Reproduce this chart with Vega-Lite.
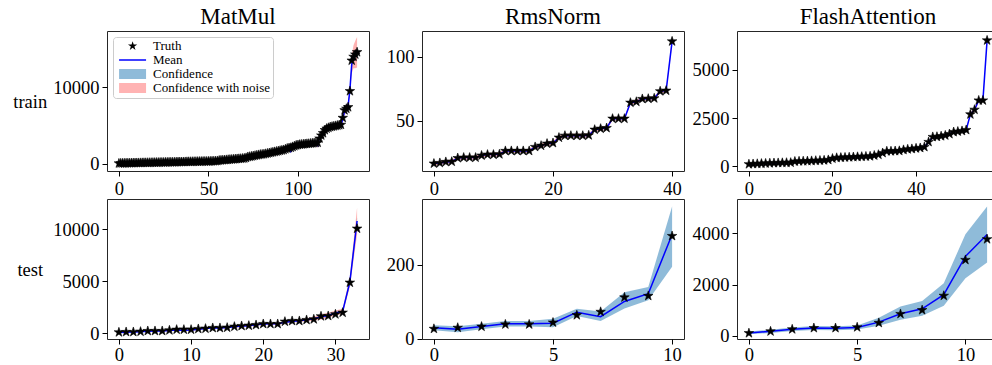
{
"$schema": "https://vega.github.io/schema/vega-lite/v6.json",
"padding": {"left": 12, "top": 5, "right": 0, "bottom": 0},
"columns": 3,
"spacing": {"row": 28, "column": 53},
"bounds": "flush",
"resolve": {"scale": {"color": "independent", "shape": "independent"}, "legend": {"color": "independent", "shape": "independent"}},
"config": {
  "view": {"stroke": "#262626", "strokeWidth": 1},
  "axis": {"domain": false, "grid": false, "tickColor": "#000000", "tickSize": 5, "tickWidth": 1, "labelFont": "Liberation Serif", "labelFontSize": 18.5, "labelColor": "#000000", "labelPadding": 3, "titleFont": "Liberation Serif", "titleFontSize": 18.5, "titleFontWeight": "normal", "titleColor": "#000000"},
  "title": {"font": "Liberation Serif", "fontSize": 23, "fontWeight": "normal", "color": "#000000", "offset": 2, "frame": "group"}
},
"datasets": {
"mm_train": [{"x":0,"t":40,"m":40},{"x":1,"t":50,"m":50},{"x":2,"t":55,"m":55},{"x":3,"t":60,"m":60},{"x":4,"t":65,"m":65},{"x":5,"t":70,"m":70},{"x":6,"t":75,"m":75},{"x":7,"t":80,"m":80},{"x":8,"t":85,"m":85},{"x":9,"t":90,"m":90},
{"x":10,"t":95,"m":95},{"x":11,"t":100,"m":100},{"x":12,"t":105,"m":105},{"x":13,"t":110,"m":110},{"x":14,"t":115,"m":115},{"x":15,"t":120,"m":120},{"x":16,"t":125,"m":125},{"x":17,"t":130,"m":130},{"x":18,"t":135,"m":135},{"x":19,"t":140,"m":140},
{"x":20,"t":145,"m":145},{"x":21,"t":150,"m":150},{"x":22,"t":155,"m":155},{"x":23,"t":160,"m":160},{"x":24,"t":165,"m":165},{"x":25,"t":170,"m":170},{"x":26,"t":175,"m":175},{"x":27,"t":180,"m":180},{"x":28,"t":185,"m":185},{"x":29,"t":190,"m":190},
{"x":30,"t":195,"m":195},{"x":31,"t":200,"m":200},{"x":32,"t":205,"m":205},{"x":33,"t":210,"m":210},{"x":34,"t":215,"m":215},{"x":35,"t":220,"m":220},{"x":36,"t":225,"m":225},{"x":37,"t":230,"m":230},{"x":38,"t":240,"m":240},{"x":39,"t":250,"m":250},
{"x":40,"t":255,"m":255},{"x":41,"t":260,"m":260},{"x":42,"t":265,"m":265},{"x":43,"t":270,"m":270},{"x":44,"t":275,"m":275},{"x":45,"t":280,"m":280},{"x":46,"t":285,"m":285},{"x":47,"t":290,"m":290},{"x":48,"t":295,"m":295},{"x":49,"t":300,"m":300},
{"x":50,"t":305,"m":305},{"x":51,"t":310,"m":310},{"x":52,"t":320,"m":320},{"x":53,"t":330,"m":330},{"x":54,"t":340,"m":340},{"x":55,"t":360,"m":360},{"x":56,"t":420,"m":420},{"x":57,"t":440,"m":440},{"x":58,"t":460,"m":460},{"x":59,"t":480,"m":480},
{"x":60,"t":500,"m":500},{"x":61,"t":520,"m":520},{"x":62,"t":540,"m":540},{"x":63,"t":560,"m":560},{"x":64,"t":580,"m":580},{"x":65,"t":600,"m":600},{"x":66,"t":620,"m":620},{"x":67,"t":640,"m":640},{"x":68,"t":660,"m":660},{"x":69,"t":680,"m":680},
{"x":70,"t":700,"m":700,"lo":660,"hi":740,"nlo":580,"nhi":820},
{"x":71,"t":760,"m":760,"lo":720,"hi":800,"nlo":640,"nhi":880},
{"x":72,"t":880,"m":880,"lo":840,"hi":920,"nlo":760,"nhi":1000},
{"x":73,"t":920,"m":920,"lo":880,"hi":960,"nlo":800,"nhi":1040},
{"x":74,"t":960,"m":960,"lo":920,"hi":1000,"nlo":840,"nhi":1080},
{"x":75,"t":1000,"m":1000,"lo":960,"hi":1040,"nlo":880,"nhi":1120},
{"x":76,"t":1050,"m":1050,"lo":1010,"hi":1090,"nlo":930,"nhi":1170},
{"x":77,"t":1100,"m":1100,"lo":1060,"hi":1140,"nlo":980,"nhi":1220},
{"x":78,"t":1150,"m":1150,"lo":1110,"hi":1190,"nlo":1030,"nhi":1270},
{"x":79,"t":1200,"m":1200,"lo":1160,"hi":1240,"nlo":1080,"nhi":1320},
{"x":80,"t":1220,"m":1220,"lo":1180,"hi":1260,"nlo":1100,"nhi":1340},
{"x":81,"t":1250,"m":1250,"lo":1210,"hi":1290,"nlo":1130,"nhi":1370},
{"x":82,"t":1300,"m":1300,"lo":1260,"hi":1340,"nlo":1180,"nhi":1420},
{"x":83,"t":1350,"m":1350,"lo":1310,"hi":1390,"nlo":1230,"nhi":1470},
{"x":84,"t":1400,"m":1400,"lo":1360,"hi":1440,"nlo":1280,"nhi":1520},
{"x":85,"t":1450,"m":1450,"lo":1410,"hi":1490,"nlo":1330,"nhi":1570},
{"x":86,"t":1500,"m":1500,"lo":1460,"hi":1540,"nlo":1380,"nhi":1620},
{"x":87,"t":1550,"m":1550,"lo":1510,"hi":1590,"nlo":1430,"nhi":1670},
{"x":88,"t":1600,"m":1600,"lo":1560,"hi":1640,"nlo":1480,"nhi":1720},
{"x":89,"t":1650,"m":1650,"lo":1610,"hi":1690,"nlo":1530,"nhi":1770},
{"x":90,"t":1700,"m":1700,"lo":1660,"hi":1740,"nlo":1580,"nhi":1820},
{"x":91,"t":1750,"m":1750,"lo":1710,"hi":1790,"nlo":1630,"nhi":1870},
{"x":92,"t":1800,"m":1800,"lo":1760,"hi":1840,"nlo":1680,"nhi":1920},
{"x":93,"t":1900,"m":1900,"lo":1860,"hi":1940,"nlo":1780,"nhi":2020},
{"x":94,"t":2000,"m":2000,"lo":1960,"hi":2040,"nlo":1880,"nhi":2120},
{"x":95,"t":2050,"m":2050,"lo":2010,"hi":2090,"nlo":1930,"nhi":2170},
{"x":96,"t":2100,"m":1600,"lo":1560,"hi":1640,"nlo":1480,"nhi":1720},
{"x":97,"t":2200,"m":2000,"lo":1960,"hi":2040,"nlo":1880,"nhi":2120},
{"x":98,"t":2300,"m":2300,"lo":2260,"hi":2340,"nlo":2180,"nhi":2420},
{"x":99,"t":2400,"m":2400,"lo":2360,"hi":2440,"nlo":2280,"nhi":2520},
{"x":100,"t":2450,"m":2450,"lo":2410,"hi":2490,"nlo":2330,"nhi":2570},
{"x":101,"t":2500,"m":2500,"lo":2460,"hi":2540,"nlo":2380,"nhi":2620},
{"x":102,"t":2520,"m":2520,"lo":2480,"hi":2560,"nlo":2400,"nhi":2640},
{"x":103,"t":2550,"m":2550,"lo":2510,"hi":2590,"nlo":2430,"nhi":2670},
{"x":104,"t":2580,"m":2580,"lo":2540,"hi":2620,"nlo":2460,"nhi":2700},
{"x":105,"t":2600,"m":2600,"lo":2560,"hi":2640,"nlo":2480,"nhi":2720},
{"x":106,"t":2620,"m":2620,"lo":2580,"hi":2660,"nlo":2500,"nhi":2740},
{"x":107,"t":2650,"m":2650,"lo":2610,"hi":2690,"nlo":2530,"nhi":2770},
{"x":108,"t":2680,"m":2680,"lo":2640,"hi":2720,"nlo":2560,"nhi":2800},
{"x":109,"t":2700,"m":2700,"lo":2660,"hi":2740,"nlo":2580,"nhi":2820},
{"x":110,"t":2720,"m":2720,"lo":2620,"hi":2820,"nlo":2420,"nhi":3020},
{"x":111,"t":2750,"m":2400,"lo":2300,"hi":2500,"nlo":2100,"nhi":2700},
{"x":112,"t":3300,"m":3500,"lo":3400,"hi":3600,"nlo":3200,"nhi":3800},
{"x":113,"t":3700,"m":3700,"lo":3600,"hi":3800,"nlo":3400,"nhi":4000},
{"x":114,"t":4000,"m":4000,"lo":3900,"hi":4100,"nlo":3700,"nhi":4300},
{"x":115,"t":4400,"m":4400,"lo":4300,"hi":4500,"nlo":4100,"nhi":4700},
{"x":116,"t":4600,"m":4600,"lo":4500,"hi":4700,"nlo":4300,"nhi":4900},
{"x":117,"t":4700,"m":4700,"lo":4600,"hi":4800,"nlo":4400,"nhi":5000},
{"x":118,"t":4800,"m":4800,"lo":4700,"hi":4900,"nlo":4500,"nhi":5100},
{"x":119,"t":4850,"m":4850,"lo":4750,"hi":4950,"nlo":4550,"nhi":5150},
{"x":120,"t":4900,"m":4900,"lo":4800,"hi":5000,"nlo":4600,"nhi":5200},
{"x":121,"t":4950,"m":4950,"lo":4850,"hi":5050,"nlo":4650,"nhi":5250},
{"x":122,"t":5000,"m":5000,"lo":4900,"hi":5100,"nlo":4700,"nhi":5300},
{"x":123,"t":5050,"m":5050,"lo":4950,"hi":5150,"nlo":4750,"nhi":5350},
{"x":124,"t":5100,"m":5100,"lo":5000,"hi":5200,"nlo":4800,"nhi":5400},
{"x":125,"t":6000,"m":5800,"lo":5600,"hi":6000,"nlo":5300,"nhi":6300},
{"x":126,"t":7000,"m":6900,"lo":6700,"hi":7100,"nlo":6400,"nhi":7400},
{"x":127,"t":7200,"m":7200,"lo":7000,"hi":7400,"nlo":6700,"nhi":7700},
{"x":128,"t":7400,"m":7600,"lo":7400,"hi":7800,"nlo":7100,"nhi":8100},
{"x":129,"t":9500,"m":9700,"lo":9500,"hi":9900,"nlo":9200,"nhi":10200},
{"x":130,"t":13500,"m":13000,"lo":12600,"hi":13400,"nlo":11800,"nhi":14200},
{"x":131,"t":14000,"m":14000,"lo":13550,"hi":14450,"nlo":12500,"nhi":15500},
{"x":132,"t":14300,"m":14300,"lo":13800,"hi":14800,"nlo":12500,"nhi":16100},
{"x":133,"t":14600,"m":14600,"lo":14100,"hi":15100,"nlo":12600,"nhi":16600}],
"rms_train": [{"x":0,"t":16.7,"m":16.7,"nlo":15.2,"nhi":18.2},{"x":1,"t":17.2,"m":17.2,"nlo":15.7,"nhi":18.7},{"x":2,"t":18.0,"m":18.0,"nlo":16.5,"nhi":19.5},{"x":3,"t":18.2,"m":18.2,"nlo":16.7,"nhi":19.7},{"x":4,"t":21.0,"m":21.0,"nlo":19.5,"nhi":22.5},{"x":5,"t":21.4,"m":21.4,"nlo":19.9,"nhi":22.9},{"x":6,"t":21.4,"m":21.4,"nlo":19.9,"nhi":22.9},{"x":7,"t":21.4,"m":21.4,"nlo":19.9,"nhi":22.9},{"x":8,"t":23.0,"m":23.0,"nlo":21.5,"nhi":24.5},{"x":9,"t":23.7,"m":23.7,"nlo":22.2,"nhi":25.2},
{"x":10,"t":23.7,"m":23.7,"nlo":22.2,"nhi":25.2},{"x":11,"t":24.0,"m":24.0,"nlo":22.5,"nhi":25.5},{"x":12,"t":26.6,"m":26.6,"nlo":25.1,"nhi":28.1},{"x":13,"t":26.6,"m":26.6,"nlo":25.1,"nhi":28.1},{"x":14,"t":26.6,"m":26.6,"nlo":25.1,"nhi":28.1},{"x":15,"t":26.6,"m":26.6,"nlo":25.1,"nhi":28.1},{"x":16,"t":26.6,"m":26.6,"nlo":25.1,"nhi":28.1},{"x":17,"t":29.7,"m":29.7,"nlo":28.2,"nhi":31.2},{"x":18,"t":30.7,"m":30.7,"nlo":29.2,"nhi":32.2},{"x":19,"t":32.3,"m":32.3,"nlo":30.8,"nhi":33.8},
{"x":20,"t":32.8,"m":32.8,"nlo":31.3,"nhi":34.3},{"x":21,"t":37.0,"m":37.0,"nlo":35.5,"nhi":38.5},{"x":22,"t":38.5,"m":38.5,"nlo":37.0,"nhi":40.0},{"x":23,"t":38.5,"m":38.5,"nlo":37.0,"nhi":40.0},{"x":24,"t":38.5,"m":38.5,"nlo":37.0,"nhi":40.0},{"x":25,"t":38.5,"m":38.5,"nlo":37.0,"nhi":40.0},{"x":26,"t":38.8,"m":38.8,"nlo":37.3,"nhi":40.3},{"x":27,"t":43.2,"m":43.2,"nlo":41.7,"nhi":44.7},{"x":28,"t":44.0,"m":44.0,"nlo":42.5,"nhi":45.5},{"x":29,"t":44.5,"m":44.5,"nlo":43.0,"nhi":46.0},
{"x":30,"t":51.8,"m":51.8,"nlo":50.3,"nhi":53.3},{"x":31,"t":51.8,"m":51.8,"nlo":50.3,"nhi":53.3},{"x":32,"t":51.8,"m":51.8,"nlo":50.3,"nhi":53.3},{"x":33,"t":64.3,"m":64.3,"nlo":62.8,"nhi":65.8},{"x":34,"t":65.0,"m":65.0,"nlo":63.5,"nhi":66.5},{"x":35,"t":67.2,"m":67.2,"nlo":65.7,"nhi":68.7},{"x":36,"t":67.4,"m":67.4,"nlo":65.9,"nhi":68.9},{"x":37,"t":67.7,"m":67.7,"nlo":66.2,"nhi":69.2},{"x":38,"t":73.2,"m":73.2,"nlo":71.7,"nhi":74.7},{"x":39,"t":73.7,"m":73.7,"nlo":72.2,"nhi":75.2},
{"x":40,"t":112.2,"m":112.2,"nlo":109.2,"nhi":115.2}],
"fa_train": [{"x":0,"t":110,"m":110,"nlo":70,"nhi":150},{"x":1,"t":120,"m":120,"nlo":80,"nhi":160},{"x":2,"t":130,"m":130,"nlo":90,"nhi":170},{"x":3,"t":140,"m":140,"nlo":100,"nhi":180},{"x":4,"t":150,"m":150,"nlo":110,"nhi":190},{"x":5,"t":160,"m":160,"nlo":120,"nhi":200},{"x":6,"t":170,"m":170,"nlo":130,"nhi":210},{"x":7,"t":175,"m":175,"nlo":135,"nhi":215},{"x":8,"t":180,"m":180,"nlo":140,"nhi":220},{"x":9,"t":185,"m":185,"nlo":145,"nhi":225},
{"x":10,"t":190,"m":190,"nlo":150,"nhi":230},{"x":11,"t":250,"m":250,"nlo":210,"nhi":290},{"x":12,"t":260,"m":260,"nlo":220,"nhi":300},{"x":13,"t":265,"m":265,"nlo":225,"nhi":305},{"x":14,"t":270,"m":270,"nlo":230,"nhi":310},{"x":15,"t":280,"m":280,"nlo":240,"nhi":320},{"x":16,"t":290,"m":290,"nlo":250,"nhi":330},{"x":17,"t":300,"m":300,"nlo":260,"nhi":340},{"x":18,"t":310,"m":310,"nlo":270,"nhi":350},{"x":19,"t":330,"m":330,"nlo":290,"nhi":370},
{"x":20,"t":400,"m":400,"nlo":360,"nhi":440},{"x":21,"t":440,"m":440,"nlo":400,"nhi":480},{"x":22,"t":450,"m":450,"nlo":410,"nhi":490},{"x":23,"t":460,"m":460,"nlo":420,"nhi":500},{"x":24,"t":470,"m":470,"nlo":430,"nhi":510},{"x":25,"t":480,"m":480,"nlo":440,"nhi":520},{"x":26,"t":490,"m":490,"nlo":450,"nhi":530},{"x":27,"t":500,"m":500,"nlo":460,"nhi":540},{"x":28,"t":510,"m":510,"nlo":470,"nhi":550},{"x":29,"t":520,"m":520,"nlo":480,"nhi":560},
{"x":30,"t":560,"m":560,"nlo":520,"nhi":600},{"x":31,"t":600,"m":600,"nlo":560,"nhi":640},{"x":32,"t":690,"m":690,"nlo":650,"nhi":730},{"x":33,"t":780,"m":780,"nlo":740,"nhi":820},{"x":34,"t":780,"m":780,"nlo":740,"nhi":820},{"x":35,"t":790,"m":790,"nlo":750,"nhi":830},{"x":36,"t":800,"m":800,"nlo":760,"nhi":840},{"x":37,"t":850,"m":850,"nlo":810,"nhi":890},{"x":38,"t":880,"m":880,"nlo":840,"nhi":920},{"x":39,"t":900,"m":900,"nlo":860,"nhi":940},
{"x":40,"t":930,"m":930,"nlo":890,"nhi":970},{"x":41,"t":950,"m":950,"nlo":910,"nhi":990},{"x":42,"t":1000,"m":1000,"nlo":960,"nhi":1040},{"x":43,"t":1260,"m":1260,"nlo":1220,"nhi":1300},{"x":44,"t":1520,"m":1520,"nlo":1480,"nhi":1560},{"x":45,"t":1530,"m":1530,"nlo":1490,"nhi":1570},{"x":46,"t":1560,"m":1560,"nlo":1520,"nhi":1600},{"x":47,"t":1600,"m":1600,"nlo":1560,"nhi":1640},{"x":48,"t":1670,"m":1670,"nlo":1630,"nhi":1710},{"x":49,"t":1775,"m":1775,"nlo":1735,"nhi":1815},
{"x":50,"t":1800,"m":1800,"nlo":1760,"nhi":1840},{"x":51,"t":1830,"m":1830,"nlo":1790,"nhi":1870},{"x":52,"t":1880,"m":1880,"nlo":1840,"nhi":1920},{"x":53,"t":2690,"m":2690,"nlo":2590,"nhi":2790},{"x":54,"t":2930,"m":2930,"nlo":2830,"nhi":3030},{"x":55,"t":3410,"m":3410,"nlo":3310,"nhi":3510},{"x":56,"t":3410,"m":3410,"nlo":3310,"nhi":3510},{"x":57,"t":6517,"m":6517,"nlo":6417,"nhi":6617}],
"mm_test": [{"x":0,"t":96,"m":80,"lo":40,"hi":120,"nlo":20,"nhi":140},{"x":1,"t":128,"m":110,"lo":70,"hi":150,"nlo":50,"nhi":170},{"x":2,"t":128,"m":130,"lo":90,"hi":170,"nlo":70,"nhi":190},{"x":3,"t":160,"m":150,"lo":110,"hi":190,"nlo":90,"nhi":210},{"x":4,"t":224,"m":200,"lo":160,"hi":240,"nlo":140,"nhi":260},{"x":5,"t":224,"m":210,"lo":170,"hi":250,"nlo":150,"nhi":270},{"x":6,"t":224,"m":220,"lo":180,"hi":260,"nlo":160,"nhi":280},{"x":7,"t":288,"m":280,"lo":240,"hi":320,"nlo":220,"nhi":340},{"x":8,"t":352,"m":320,"lo":280,"hi":360,"nlo":260,"nhi":380},{"x":9,"t":352,"m":300,"lo":260,"hi":340,"nlo":240,"nhi":360},
{"x":10,"t":352,"m":320,"lo":270,"hi":370,"nlo":240,"nhi":400},{"x":11,"t":417,"m":400,"lo":350,"hi":450,"nlo":320,"nhi":480},{"x":12,"t":449,"m":470,"lo":420,"hi":520,"nlo":390,"nhi":550},{"x":13,"t":513,"m":540,"lo":490,"hi":590,"nlo":460,"nhi":620},{"x":14,"t":513,"m":520,"lo":470,"hi":570,"nlo":440,"nhi":600},{"x":15,"t":545,"m":560,"lo":510,"hi":610,"nlo":480,"nhi":640},{"x":16,"t":641,"m":630,"lo":570,"hi":690,"nlo":530,"nhi":730},{"x":17,"t":705,"m":690,"lo":630,"hi":750,"nlo":590,"nhi":790},{"x":18,"t":737,"m":720,"lo":660,"hi":780,"nlo":620,"nhi":820},{"x":19,"t":801,"m":820,"lo":760,"hi":880,"nlo":720,"nhi":920},
{"x":20,"t":897,"m":900,"lo":840,"hi":960,"nlo":800,"nhi":1000},{"x":21,"t":897,"m":920,"lo":860,"hi":980,"nlo":820,"nhi":1020},{"x":22,"t":897,"m":930,"lo":870,"hi":990,"nlo":830,"nhi":1030},{"x":23,"t":1122,"m":1050,"lo":980,"hi":1120,"nlo":930,"nhi":1170},{"x":24,"t":1186,"m":1150,"lo":1080,"hi":1220,"nlo":1030,"nhi":1270},{"x":25,"t":1186,"m":1200,"lo":1130,"hi":1270,"nlo":1080,"nhi":1320},{"x":26,"t":1282,"m":1300,"lo":1220,"hi":1380,"nlo":1150,"nhi":1450},{"x":27,"t":1346,"m":1400,"lo":1320,"hi":1480,"nlo":1200,"nhi":1600},{"x":28,"t":1635,"m":1580,"lo":1480,"hi":1680,"nlo":1330,"nhi":1830},{"x":29,"t":1667,"m":1720,"lo":1620,"hi":1820,"nlo":1470,"nhi":1970},
{"x":30,"t":1827,"m":1950,"lo":1850,"hi":2050,"nlo":1700,"nhi":2200},{"x":31,"t":1987,"m":2100,"lo":2000,"hi":2200,"nlo":1850,"nhi":2350},{"x":32,"t":4872,"m":4950,"lo":4650,"hi":5250,"nlo":4450,"nhi":5450},{"x":33,"t":10064,"m":10800,"lo":10450,"hi":11150,"nlo":9500,"nhi":12100}],
"rms_test": [{"x":0,"t":27,"m":30,"lo":23,"hi":37},{"x":1,"t":30,"m":26,"lo":18,"hi":34},{"x":2,"t":33,"m":33,"lo":26,"hi":41},{"x":3,"t":39,"m":40.5,"lo":33,"hi":48},{"x":4,"t":39,"m":40.5,"lo":33,"hi":48},{"x":5,"t":44,"m":42,"lo":31,"hi":54},{"x":6,"t":64,"m":72,"lo":62,"hi":81},{"x":7,"t":73,"m":60,"lo":48,"hi":74},{"x":8,"t":112,"m":101,"lo":82,"hi":126},{"x":9,"t":116,"m":122,"lo":104,"hi":140},{"x":10,"t":278,"m":282,"lo":195,"hi":358}],
"fa_test": [{"x":0,"t":100,"m":110,"lo":60,"hi":160},{"x":1,"t":170,"m":170,"lo":110,"hi":230},{"x":2,"t":250,"m":250,"lo":180,"hi":320},{"x":3,"t":300,"m":300,"lo":220,"hi":380},{"x":4,"t":300,"m":290,"lo":210,"hi":370},{"x":5,"t":330,"m":320,"lo":240,"hi":400},{"x":6,"t":500,"m":530,"lo":390,"hi":700},{"x":7,"t":850,"m":860,"lo":620,"hi":1140},{"x":8,"t":1000,"m":1050,"lo":780,"hi":1360},{"x":9,"t":1560,"m":1600,"lo":1170,"hi":2050},{"x":10,"t":2960,"m":3100,"lo":2240,"hi":3960},{"x":11,"t":3770,"m":3950,"lo":2860,"hi":5050}]
},
"concat": [
{
 "width": 262, "height": 140,
 "title": {"text": "MatMul"},
 "data": {"name": "mm_train"},
 "layer": [
  {"mark": {"type": "area", "color": "#ff0000", "opacity": 0.3, "clip": true},
   "encoding": {"x": {"field": "x", "type": "quantitative", "scale": {"domain": [-6.65, 139.65], "nice": false, "zero": false}, "axis": {"values": [0, 50, 100], "format": "d", "title": null}},
                "y": {"field": "nlo", "type": "quantitative", "scale": {"domain": [-955, 17370], "nice": false, "zero": false}, "axis": {"values": [0, 10000], "format": "d", "title": "train", "titleAngle": 0, "titleAlign": "center", "titleBaseline": "middle", "titlePadding": 23}},
                "y2": {"field": "nhi"}}},
  {"mark": {"type": "area", "color": "#1f77b4", "opacity": 0.5, "clip": true},
   "encoding": {"x": {"field": "x", "type": "quantitative", "scale": {"domain": [-6.65, 139.65], "nice": false, "zero": false}, "axis": {"values": [0, 50, 100], "format": "d", "title": null}},
                "y": {"field": "lo", "type": "quantitative", "scale": {"domain": [-955, 17370], "nice": false, "zero": false}, "axis": {"values": [0, 10000], "format": "d", "title": "train", "titleAngle": 0, "titleAlign": "center", "titleBaseline": "middle", "titlePadding": 23}},
                "y2": {"field": "hi"}}},
  {"mark": {"type": "line", "color": "#0000ff", "strokeWidth": 1.5, "clip": true},
   "encoding": {"x": {"field": "x", "type": "quantitative", "scale": {"domain": [-6.65, 139.65], "nice": false, "zero": false}, "axis": {"values": [0, 50, 100], "format": "d", "title": null}},
                "y": {"field": "m", "type": "quantitative", "scale": {"domain": [-955, 17370], "nice": false, "zero": false}, "axis": {"values": [0, 10000], "format": "d", "title": "train", "titleAngle": 0, "titleAlign": "center", "titleBaseline": "middle", "titlePadding": 23}}}},
  {"mark": {"type": "point", "shape": "M0,-1L0.2245,-0.309L0.951,-0.309L0.363,0.118L0.588,0.809L0,0.382L-0.588,0.809L-0.363,0.118L-0.951,-0.309L-0.2245,-0.309Z", "filled": true, "color": "#000000", "size": 100, "opacity": 1, "stroke": "#000000", "strokeWidth": 0.6, "clip": true},
   "encoding": {"x": {"field": "x", "type": "quantitative", "scale": {"domain": [-6.65, 139.65], "nice": false, "zero": false}, "axis": {"values": [0, 50, 100], "format": "d", "title": null}},
                "y": {"field": "t", "type": "quantitative", "scale": {"domain": [-955, 17370], "nice": false, "zero": false}, "axis": {"values": [0, 10000], "format": "d", "title": "train", "titleAngle": 0, "titleAlign": "center", "titleBaseline": "middle", "titlePadding": 23}}}},
  {"data": {"values": [{"s": "Truth"}, {"s": "Mean"}, {"s": "Confidence"}, {"s": "Confidence with noise"}]},
   "mark": {"type": "point", "filled": true, "opacity": 0},
   "encoding": {
     "color": {"field": "s", "type": "nominal",
       "scale": {"domain": ["Truth", "Mean", "Confidence", "Confidence with noise"], "range": ["#000000", "#0000ff", "#8fbbd9", "#ffb3b3"]},
       "legend": {"orient": "none", "legendX": 6, "legendY": 6, "padding": 2.5, "title": null, "labelFont": "Liberation Serif", "labelFontSize": 13, "labelColor": "#000000", "labelOffset": 24.5, "labelLimit": 400, "rowPadding": 0, "symbolSize": 313, "strokeColor": "#cccccc", "fillColor": "#ffffff", "cornerRadius": 3,
         "encode": {"symbols": {"update": {"opacity": {"value": 1}, "stroke": {"value": "#0000ff"}, "strokeWidth": {"signal": "datum.value === 'Mean' ? 1.5 : 0"}}}}}},
     "shape": {"field": "s", "type": "nominal",
       "scale": {"domain": ["Truth", "Mean", "Confidence", "Confidence with noise"], "range": ["M1.2,-0.55L1.323,-0.17L1.723,-0.17L1.4,0.065L1.523,0.445L1.2,0.21L0.877,0.445L1.0,0.065L0.677,-0.17L1.077,-0.17Z", "M-0.33,0L2.72,0", "M-0.33,-0.565L2.72,-0.565L2.72,0.565L-0.33,0.565Z", "M-0.33,-0.565L2.72,-0.565L2.72,0.565L-0.33,0.565Z"]},
       "legend": {"orient": "none", "legendX": 6, "legendY": 6, "padding": 2.5, "title": null, "labelFont": "Liberation Serif", "labelFontSize": 13, "labelColor": "#000000", "labelOffset": 24.5, "labelLimit": 400, "rowPadding": 0, "symbolSize": 313, "strokeColor": "#cccccc", "fillColor": "#ffffff", "cornerRadius": 3,
         "encode": {"symbols": {"update": {"opacity": {"value": 1}, "stroke": {"value": "#0000ff"}, "strokeWidth": {"signal": "datum.value === 'Mean' ? 1.5 : 0"}}}}}}
   }}
 ]
},
{
 "width": 262, "height": 140,
 "title": {"text": "RmsNorm"},
 "data": {"name": "rms_train"},
 "layer": [
  {"mark": {"type": "area", "color": "#ff0000", "opacity": 0.3, "clip": true},
   "encoding": {"x": {"field": "x", "type": "quantitative", "scale": {"domain": [-2, 42], "nice": false, "zero": false}, "axis": {"values": [0, 20, 40], "format": "d", "title": null}},
                "y": {"field": "nlo", "type": "quantitative", "scale": {"domain": [10.9, 120.3], "nice": false, "zero": false}, "axis": {"values": [50, 100], "format": "d", "title": null}},
                "y2": {"field": "nhi"}}},
  {"mark": {"type": "line", "color": "#0000ff", "strokeWidth": 1.5, "clip": true},
   "encoding": {"x": {"field": "x", "type": "quantitative", "scale": {"domain": [-2, 42], "nice": false, "zero": false}, "axis": {"values": [0, 20, 40], "format": "d", "title": null}},
                "y": {"field": "m", "type": "quantitative", "scale": {"domain": [10.9, 120.3], "nice": false, "zero": false}, "axis": {"values": [50, 100], "format": "d", "title": null}}}},
  {"mark": {"type": "point", "shape": "M0,-1L0.2245,-0.309L0.951,-0.309L0.363,0.118L0.588,0.809L0,0.382L-0.588,0.809L-0.363,0.118L-0.951,-0.309L-0.2245,-0.309Z", "filled": true, "color": "#000000", "size": 100, "opacity": 1, "stroke": "#000000", "strokeWidth": 0.6, "clip": true},
   "encoding": {"x": {"field": "x", "type": "quantitative", "scale": {"domain": [-2, 42], "nice": false, "zero": false}, "axis": {"values": [0, 20, 40], "format": "d", "title": null}},
                "y": {"field": "t", "type": "quantitative", "scale": {"domain": [10.9, 120.3], "nice": false, "zero": false}, "axis": {"values": [50, 100], "format": "d", "title": null}}}}
 ]
},
{
 "width": 262, "height": 140,
 "title": {"text": "FlashAttention"},
 "data": {"name": "fa_train"},
 "layer": [
  {"mark": {"type": "area", "color": "#ff0000", "opacity": 0.3, "clip": true},
   "encoding": {"x": {"field": "x", "type": "quantitative", "scale": {"domain": [-2.85, 59.85], "nice": false, "zero": false}, "axis": {"values": [0, 20, 40], "format": "d", "title": null}},
                "y": {"field": "nlo", "type": "quantitative", "scale": {"domain": [-243, 7003], "nice": false, "zero": false}, "axis": {"values": [0, 2500, 5000], "format": "d", "title": null}},
                "y2": {"field": "nhi"}}},
  {"mark": {"type": "line", "color": "#0000ff", "strokeWidth": 1.5, "clip": true},
   "encoding": {"x": {"field": "x", "type": "quantitative", "scale": {"domain": [-2.85, 59.85], "nice": false, "zero": false}, "axis": {"values": [0, 20, 40], "format": "d", "title": null}},
                "y": {"field": "m", "type": "quantitative", "scale": {"domain": [-243, 7003], "nice": false, "zero": false}, "axis": {"values": [0, 2500, 5000], "format": "d", "title": null}}}},
  {"mark": {"type": "point", "shape": "M0,-1L0.2245,-0.309L0.951,-0.309L0.363,0.118L0.588,0.809L0,0.382L-0.588,0.809L-0.363,0.118L-0.951,-0.309L-0.2245,-0.309Z", "filled": true, "color": "#000000", "size": 100, "opacity": 1, "stroke": "#000000", "strokeWidth": 0.6, "clip": true},
   "encoding": {"x": {"field": "x", "type": "quantitative", "scale": {"domain": [-2.85, 59.85], "nice": false, "zero": false}, "axis": {"values": [0, 20, 40], "format": "d", "title": null}},
                "y": {"field": "t", "type": "quantitative", "scale": {"domain": [-243, 7003], "nice": false, "zero": false}, "axis": {"values": [0, 2500, 5000], "format": "d", "title": null}}}}
 ]
},
{
 "width": 262, "height": 140,
 "data": {"name": "mm_test"},
 "layer": [
  {"mark": {"type": "area", "color": "#ff0000", "opacity": 0.3, "clip": true},
   "encoding": {"x": {"field": "x", "type": "quantitative", "scale": {"domain": [-1.65, 34.65], "nice": false, "zero": false}, "axis": {"values": [0, 10, 20, 30], "format": "d", "title": null, "labelPadding": 1.5}},
                "y": {"field": "nlo", "type": "quantitative", "scale": {"domain": [-548, 12913], "nice": false, "zero": false}, "axis": {"values": [0, 5000, 10000], "format": "d", "title": "test", "titleAngle": 0, "titleAlign": "center", "titleBaseline": "middle", "titlePadding": 23}},
                "y2": {"field": "nhi"}}},
  {"mark": {"type": "area", "color": "#1f77b4", "opacity": 0.5, "clip": true},
   "encoding": {"x": {"field": "x", "type": "quantitative", "scale": {"domain": [-1.65, 34.65], "nice": false, "zero": false}, "axis": {"values": [0, 10, 20, 30], "format": "d", "title": null, "labelPadding": 1.5}},
                "y": {"field": "lo", "type": "quantitative", "scale": {"domain": [-548, 12913], "nice": false, "zero": false}, "axis": {"values": [0, 5000, 10000], "format": "d", "title": "test", "titleAngle": 0, "titleAlign": "center", "titleBaseline": "middle", "titlePadding": 23}},
                "y2": {"field": "hi"}}},
  {"mark": {"type": "line", "color": "#0000ff", "strokeWidth": 1.5, "clip": true},
   "encoding": {"x": {"field": "x", "type": "quantitative", "scale": {"domain": [-1.65, 34.65], "nice": false, "zero": false}, "axis": {"values": [0, 10, 20, 30], "format": "d", "title": null, "labelPadding": 1.5}},
                "y": {"field": "m", "type": "quantitative", "scale": {"domain": [-548, 12913], "nice": false, "zero": false}, "axis": {"values": [0, 5000, 10000], "format": "d", "title": "test", "titleAngle": 0, "titleAlign": "center", "titleBaseline": "middle", "titlePadding": 23}}}},
  {"mark": {"type": "point", "shape": "M0,-1L0.2245,-0.309L0.951,-0.309L0.363,0.118L0.588,0.809L0,0.382L-0.588,0.809L-0.363,0.118L-0.951,-0.309L-0.2245,-0.309Z", "filled": true, "color": "#000000", "size": 100, "opacity": 1, "stroke": "#000000", "strokeWidth": 0.6, "clip": true},
   "encoding": {"x": {"field": "x", "type": "quantitative", "scale": {"domain": [-1.65, 34.65], "nice": false, "zero": false}, "axis": {"values": [0, 10, 20, 30], "format": "d", "title": null, "labelPadding": 1.5}},
                "y": {"field": "t", "type": "quantitative", "scale": {"domain": [-548, 12913], "nice": false, "zero": false}, "axis": {"values": [0, 5000, 10000], "format": "d", "title": "test", "titleAngle": 0, "titleAlign": "center", "titleBaseline": "middle", "titlePadding": 23}}}}
 ]
},
{
 "width": 262, "height": 140,
 "data": {"name": "rms_test"},
 "layer": [
  {"mark": {"type": "area", "color": "#1f77b4", "opacity": 0.5, "clip": true},
   "encoding": {"x": {"field": "x", "type": "quantitative", "scale": {"domain": [-0.5, 10.5], "nice": false, "zero": false}, "axis": {"values": [0, 5, 10], "format": "d", "title": null, "labelPadding": 1.5}},
                "y": {"field": "lo", "type": "quantitative", "scale": {"domain": [-0.5, 378], "nice": false, "zero": false}, "axis": {"values": [0, 200], "format": "d", "title": null}},
                "y2": {"field": "hi"}}},
  {"mark": {"type": "line", "color": "#0000ff", "strokeWidth": 1.5, "clip": true},
   "encoding": {"x": {"field": "x", "type": "quantitative", "scale": {"domain": [-0.5, 10.5], "nice": false, "zero": false}, "axis": {"values": [0, 5, 10], "format": "d", "title": null, "labelPadding": 1.5}},
                "y": {"field": "m", "type": "quantitative", "scale": {"domain": [-0.5, 378], "nice": false, "zero": false}, "axis": {"values": [0, 200], "format": "d", "title": null}}}},
  {"mark": {"type": "point", "shape": "M0,-1L0.2245,-0.309L0.951,-0.309L0.363,0.118L0.588,0.809L0,0.382L-0.588,0.809L-0.363,0.118L-0.951,-0.309L-0.2245,-0.309Z", "filled": true, "color": "#000000", "size": 100, "opacity": 1, "stroke": "#000000", "strokeWidth": 0.6, "clip": true},
   "encoding": {"x": {"field": "x", "type": "quantitative", "scale": {"domain": [-0.5, 10.5], "nice": false, "zero": false}, "axis": {"values": [0, 5, 10], "format": "d", "title": null, "labelPadding": 1.5}},
                "y": {"field": "t", "type": "quantitative", "scale": {"domain": [-0.5, 378], "nice": false, "zero": false}, "axis": {"values": [0, 200], "format": "d", "title": null}}}}
 ]
},
{
 "width": 262, "height": 140,
 "data": {"name": "fa_test"},
 "layer": [
  {"mark": {"type": "area", "color": "#1f77b4", "opacity": 0.5, "clip": true},
   "encoding": {"x": {"field": "x", "type": "quantitative", "scale": {"domain": [-0.55, 11.55], "nice": false, "zero": false}, "axis": {"values": [0, 5, 10], "format": "d", "title": null, "labelPadding": 1.5}},
                "y": {"field": "lo", "type": "quantitative", "scale": {"domain": [-129, 5340], "nice": false, "zero": false}, "axis": {"values": [0, 2000, 4000], "format": "d", "title": null}},
                "y2": {"field": "hi"}}},
  {"mark": {"type": "line", "color": "#0000ff", "strokeWidth": 1.5, "clip": true},
   "encoding": {"x": {"field": "x", "type": "quantitative", "scale": {"domain": [-0.55, 11.55], "nice": false, "zero": false}, "axis": {"values": [0, 5, 10], "format": "d", "title": null, "labelPadding": 1.5}},
                "y": {"field": "m", "type": "quantitative", "scale": {"domain": [-129, 5340], "nice": false, "zero": false}, "axis": {"values": [0, 2000, 4000], "format": "d", "title": null}}}},
  {"mark": {"type": "point", "shape": "M0,-1L0.2245,-0.309L0.951,-0.309L0.363,0.118L0.588,0.809L0,0.382L-0.588,0.809L-0.363,0.118L-0.951,-0.309L-0.2245,-0.309Z", "filled": true, "color": "#000000", "size": 100, "opacity": 1, "stroke": "#000000", "strokeWidth": 0.6, "clip": true},
   "encoding": {"x": {"field": "x", "type": "quantitative", "scale": {"domain": [-0.55, 11.55], "nice": false, "zero": false}, "axis": {"values": [0, 5, 10], "format": "d", "title": null, "labelPadding": 1.5}},
                "y": {"field": "t", "type": "quantitative", "scale": {"domain": [-129, 5340], "nice": false, "zero": false}, "axis": {"values": [0, 2000, 4000], "format": "d", "title": null}}}}
 ]
}
]
}
